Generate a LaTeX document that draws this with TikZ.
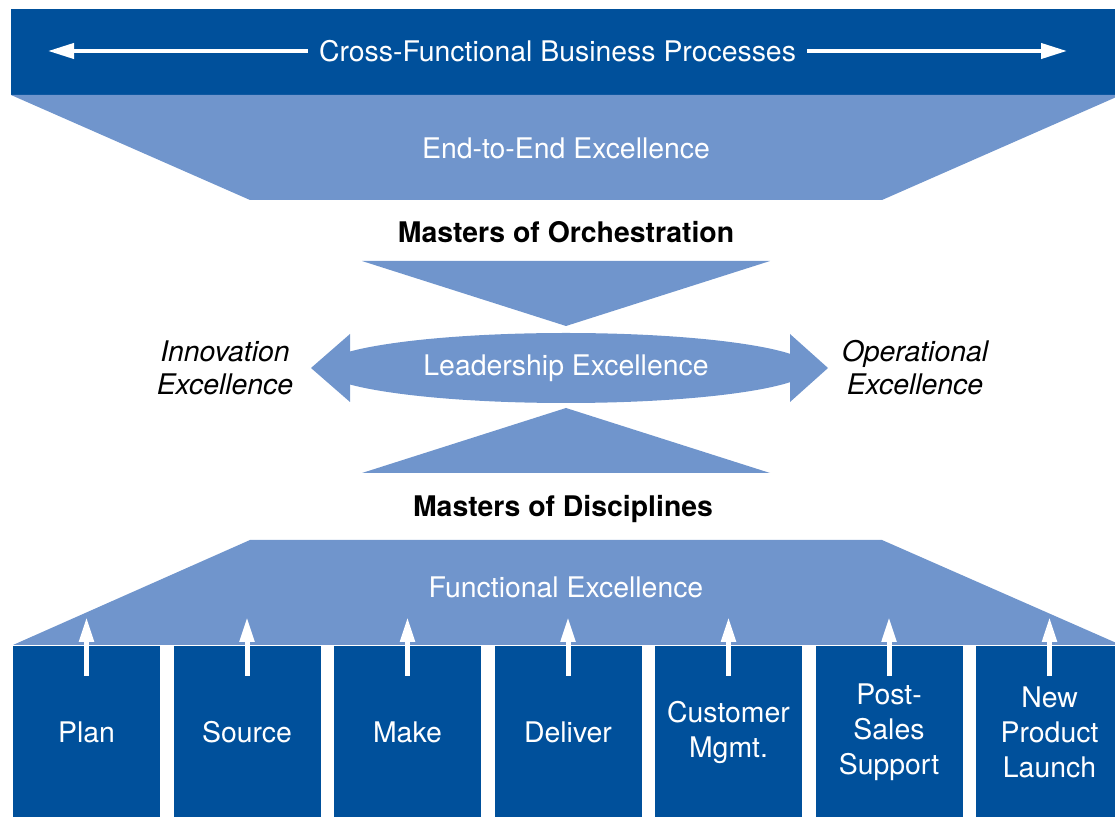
\documentclass[tikz,border=0pt]{standalone}
\usepackage{fontspec}
\setmainfont{TeX Gyre Heros}
\usetikzlibrary{arrows.meta,shapes.geometric}
\definecolor{bardark}{HTML}{00509B}
\definecolor{barlight}{HTML}{7095CC}

\begin{document}
\begin{tikzpicture}[x=0.5pt, y=-0.5pt,
    lbl/.style={font=\fontsize{14.2}{17.5}\selectfont, align=center, inner sep=0pt},
    onblue/.style={lbl, text=white},
    head/.style={lbl, font=\fontsize{14.2}{17.5}\selectfont\bfseries},
    side/.style={lbl, font=\fontsize{14.2}{16.5}\selectfont\itshape},
    pillar/.style={onblue, fill=bardark, minimum width=73.5pt, minimum height=86pt},
    flow/.style={white, line width=2pt, -{Triangle[length=13pt,width=7.5pt]}},
    lift/.style={white, line width=2.5pt, -{Triangle[length=12.5pt,width=7pt]}}]
    \useasboundingbox (0,0) rectangle (1115,817);

    % top bar and end-to-end funnel
    \fill[bardark] (11,9) rectangle (1125,95);
    \fill[barlight] (11,95) -- (1121,95) -- (882,200) -- (250,200) -- cycle;
    \node[onblue, inner xsep=5.5pt] (cfbp) at (557.5,51) {Cross-Functional Business Processes};
    \coordinate (cfl) at (48,51);
    \coordinate (cfr) at (1067,51);
    \draw[flow] (cfbp.west) -- (cfl);
    \draw[flow] (cfbp.east) -- (cfr);
    \node[onblue] (e2e) at (566,148) {End-to-End Excellence};

    \node[head] (orch) at (566,232) {Masters of Orchestration};

    % leadership
    \fill[barlight] (362,261) -- (770,261) -- (566,326) -- cycle;
    \fill[barlight] (566,408) -- (770,473) -- (362,473) -- cycle;
    \fill[barlight] (311,368) -- (350,334) -- (350,402) -- cycle;
    \fill[barlight] (828,368) -- (790,334) -- (790,402) -- cycle;
    \node[onblue, ellipse, fill=barlight, minimum width=245pt, minimum height=35pt] (lead) at (566,368) {Leadership Excellence};
    \node[side] (innov) at (225,368) {Innovation\\Excellence};
    \node[side] (oper) at (915,368) {Operational\\Excellence};

    \node[head] (disc) at (563,509) {Masters of Disciplines};

    % functional funnel and pillars
    \fill[barlight] (250,540) -- (882,540) -- (1121,645) -- (13,645) -- cycle;
    \node[onblue] (func) at (566,587) {Functional Excellence};

    \node[pillar] (plan) at (86.5,732) {Plan};
    \node[pillar] (src) at (247,732) {Source};
    \node[pillar] (make) at (407.5,732) {Make};
    \node[pillar] (dlv) at (568,732) {Deliver};
    \node[pillar] (cust) at (728.5,732) {Customer\\Mgmt.};
    \node[pillar] (post) at (889,732) {Post-\\Sales\\Support};
    \node[pillar] (npl) at (1049.5,732) {New\\Product\\Launch};

    \coordinate (planup) at (86.5,617);
    \coordinate (srcup) at (247,617);
    \coordinate (makeup) at (407.5,617);
    \coordinate (dlvup) at (568,617);
    \coordinate (custup) at (728.5,617);
    \coordinate (postup) at (889,617);
    \coordinate (nplup) at (1049.5,617);

    \draw[lift] ([yshift=-15pt]plan.north) -- (planup);
    \draw[lift] ([yshift=-15pt]src.north) -- (srcup);
    \draw[lift] ([yshift=-15pt]make.north) -- (makeup);
    \draw[lift] ([yshift=-15pt]dlv.north) -- (dlvup);
    \draw[lift] ([yshift=-15pt]cust.north) -- (custup);
    \draw[lift] ([yshift=-15pt]post.north) -- (postup);
    \draw[lift] ([yshift=-15pt]npl.north) -- (nplup);
\end{tikzpicture}
\end{document}
